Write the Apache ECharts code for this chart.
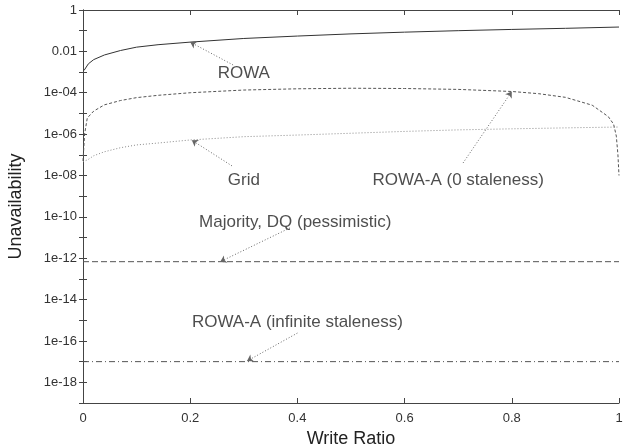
<!DOCTYPE html>
<html>
<head>
<meta charset="utf-8">
<script src="https://cdn.jsdelivr.net/npm/echarts@6/dist/echarts.min.js"></script>
<style>
  html, body { margin: 0; padding: 0; background: #fff; }
  #chart { width: 623px; height: 444px; }
</style>
</head>
<body>
<div id="chart"></div>
<script>
// values (write ratio -> unavailability)
const rowaX = [0.002, 0.01, 0.02, 0.04, 0.07, 0.1, 0.14, 0.2, 0.3, 0.4, 0.5, 0.6, 0.7, 0.8, 0.9, 1]
const rowaY = [1.2e-3, 2.5e-3, 4e-3, 6.7e-3, 0.011, 0.016, 0.021, 0.028, 0.042, 0.055, 0.07, 0.085, 0.1, 0.115, 0.13, 0.15]

const rowaA0X = [0, 0.003, 0.008, 0.02, 0.04, 0.07, 0.1, 0.14, 0.2, 0.3, 0.4, 0.5, 0.6, 0.7, 0.8, 0.85, 0.9, 0.95, 0.98, 0.99, 0.995, 0.998, 1]
const rowaA0Y = [5e-8, 1e-6, 6e-6, 1.3e-5, 2.6e-5, 4.2e-5, 5.8e-5, 7.5e-5, 1e-4, 1.35e-4, 1.55e-4, 1.65e-4, 1.6e-4, 1.45e-4, 1.15e-4, 9e-5, 6e-5, 2.5e-5, 7e-6, 3e-6, 8e-7, 1e-7, 1e-8]

const gridX = [0, 0.01, 0.02, 0.04, 0.07, 0.1, 0.14, 0.2, 0.3, 0.4, 0.5, 0.6, 0.7, 0.8, 0.9, 1]
const gridY = [4.6e-8, 6e-8, 9e-8, 1.4e-7, 2.2e-7, 3e-7, 3.7e-7, 5.2e-7, 7.5e-7, 9e-7, 1.1e-6, 1.35e-6, 1.6e-6, 1.8e-6, 2e-6, 2.2e-6]

const majorityX = [0, 1]
const majorityY = [6.8e-13, 6.8e-13]

const rowaAInfX = [0, 1]
const rowaAInfY = [1e-17, 1e-17]

// annotations: label text, label position, arrow from -> to
const noteText = ['ROWA', 'Grid', 'ROWA-A (0 staleness)', 'Majority, DQ (pessimistic)', 'ROWA-A (infinite staleness)']
const notePos = [[0.30, 9e-4], [0.30, 6e-9], [0.70, 6e-9], [0.396, 5.6e-11], [0.40, 8.1e-16]]
const arrowFrom = [[0.28, 2.2e-3], [0.278, 2.9e-8], [0.709, 4e-8], [0.386, 2.9e-11], [0.40, 2.4e-16]]
const arrowTo = [[0.20, 2.8e-2], [0.203, 5.1e-7], [0.80, 1.15e-4], [0.256, 6.8e-13], [0.306, 1.07e-17]]

const xTicks = ['0', '0.2', '0.4', '0.6', '0.8', '1']

const zip = (xs, ys) => xs.map((x, i) => [x, ys[i]])

// only even decades are labelled
const yLabel = (v) => {
  const e = Math.round(Math.log10(v))
  if (e % 2 !== 0) return ''
  if (e === 0) return '1'
  if (e === -2) return '0.01'
  const n = -e
  return '1e-' + (n < 10 ? '0' + n : n)
}

const axisColor = '#444'
const font = 'Liberation Sans, Arial, sans-serif'

const chart = echarts.init(document.getElementById('chart'))

const lineSeries = (data, color, type, width) => ({
  type: 'line',
  data: data,
  showSymbol: false,
  symbol: 'none',
  animation: false,
  lineStyle: { color: color, width: width, type: type }
})

const option = {
  animation: false,
  grid: { left: 83, right: 4, top: 10, bottom: 41, outerBoundsMode: 'none', containLabel: false },
  xAxis: [{
    type: 'value',
    min: 0,
    max: 1,
    interval: 0.2,
    name: 'Write Ratio',
    nameLocation: 'middle',
    nameGap: 19,
    nameTextStyle: { fontFamily: font, fontSize: 18, color: '#222' },
    axisLine: { lineStyle: { color: axisColor, width: 1 } },
    axisTick: { inside: true, length: 5, lineStyle: { color: axisColor } },
    axisLabel: {
      margin: 9, fontFamily: font, fontSize: 13, color: '#333',
      formatter: (v) => xTicks[Math.round(v * 5)]
    },
    splitLine: { show: false }
  }, {
    type: 'value',
    position: 'top',
    min: 0,
    max: 1,
    interval: 0.2,
    axisLine: { lineStyle: { color: axisColor, width: 1 } },
    axisTick: { inside: true, length: 5, lineStyle: { color: axisColor } },
    axisLabel: { show: false },
    splitLine: { show: false }
  }],
  yAxis: [{
    type: 'log',
    logBase: 10,
    min: 1e-19,
    max: 1,
    interval: 1,
    name: 'Unavailability',
    nameLocation: 'middle',
    nameGap: 58,
    nameTextStyle: { fontFamily: font, fontSize: 18, color: '#222' },
    axisLine: { show: true, lineStyle: { color: axisColor, width: 1 } },
    axisTick: { show: true, inside: true, length: 4, lineStyle: { color: axisColor } },
    axisLabel: { margin: 6, fontFamily: font, fontSize: 13, color: '#333', formatter: yLabel },
    splitLine: { show: false }
  }, {
    type: 'log',
    logBase: 10,
    position: 'right',
    min: 1e-19,
    max: 1,
    interval: 1,
    axisLine: { show: true, lineStyle: { color: axisColor, width: 1 } },
    axisTick: { show: true, inside: true, length: 4, lineStyle: { color: axisColor } },
    axisLabel: { show: false },
    splitLine: { show: false }
  }],
  series: [
    lineSeries(zip(rowaX, rowaY), '#333', 'solid', 1),
    lineSeries(zip(rowaA0X, rowaA0Y), '#555', [3, 2], 1),
    lineSeries(zip(gridX, gridY), '#888', [1, 2], 1),
    lineSeries(zip(majorityX, majorityY), '#555', [6, 3], 1),
    lineSeries(zip(rowaAInfX, rowaAInfY), '#555', [6, 3, 1, 3], 1),
    {
      type: 'scatter',
      symbolSize: 0,
      animation: false,
      silent: true,
      data: noteText.map((t, i) => [notePos[i][0], notePos[i][1], t]),
      label: {
        show: true,
        position: 'inside',
        fontFamily: font,
        fontSize: 17,
        color: '#222',
        formatter: (p) => p.data[2]
      },
      markLine: {
        silent: true,
        animation: false,
        symbol: ['none', 'arrow'],
        symbolSize: 6,
        label: { show: false },
        lineStyle: { color: '#666', type: [1, 2], width: 1 },
        data: arrowFrom.map((f, i) => [{ coord: f }, { coord: arrowTo[i] }])
      }
    }
  ]
}

chart.setOption(option)
</script>
</body>
</html>
